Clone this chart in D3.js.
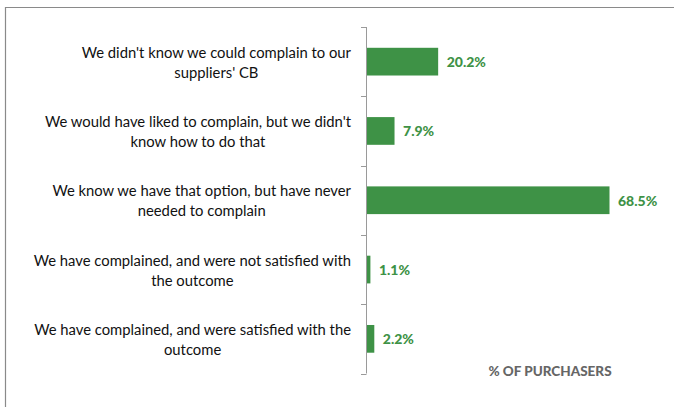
<!DOCTYPE html>
<html>
<head>
<meta charset="utf-8">
<script src="https://cdn.jsdelivr.net/npm/d3@7"></script>
<style>
  html, body { margin: 0; padding: 0; background: #fff; }
  svg { display: block; }
</style>
</head>
<body>
<svg id="chart" width="674" height="407"></svg>
<script>
// Survey answers, top to bottom
const categories = [
  "We didn't know we could complain to our suppliers' CB",
  "We would have liked to complain, but we didn't know how to do that",
  "We know we have that option, but have never needed to complain",
  "We have complained, and were not satisfied with the outcome",
  "We have complained, and were satisfied with the outcome"
];
const categoryLines = [
  ["We didn't know we could complain to our", "suppliers' CB"],
  ["We would have liked to complain, but we didn't", "know how to do that"],
  ["We know we have that option, but have never", "needed to complain"],
  ["We have complained, and were not satisfied with", "the outcome"],
  ["We have complained, and were satisfied with the", "outcome"]
];
const values = [20.2, 7.9, 68.5, 1.1, 2.2];
const axisTitle = "% OF PURCHASERS";

const svg = d3.select("#chart");
const green = "#3e9246";

// outer frame (top and left edges)
svg.append("line").attr("x1", 5).attr("x2", 674).attr("y1", 7.5).attr("y2", 7.5)
  .attr("stroke", "#8a8a8a").attr("stroke-width", 1.2);
svg.append("line").attr("x1", 5.5).attr("x2", 5.5).attr("y1", 7).attr("y2", 407)
  .attr("stroke", "#8a8a8a").attr("stroke-width", 1.2);

const x0 = 366;
const x = d3.scaleLinear().domain([0, 68.5]).range([x0, 609]);
const y = d3.scaleBand().domain(d3.range(categories.length)).range([27, 373.5])
  .paddingInner(0.6).paddingOuter(0.3);

// bars
svg.append("g").selectAll("rect").data(values).join("rect")
  .attr("x", x(0) + 0.5)
  .attr("y", (d, i) => y(i))
  .attr("width", d => x(d) - x(0))
  .attr("height", y.bandwidth())
  .attr("fill", green);

// vertical category axis with ticks at band boundaries
const boundaries = d3.range(categories.length + 1).map(i => 27 + i * y.step());
const axisG = svg.append("g");
axisG.append("line").attr("x1", x0 + 0.5).attr("x2", x0 + 0.5)
  .attr("y1", boundaries[0]).attr("y2", boundaries[boundaries.length - 1])
  .attr("stroke", "#9a9a9a").attr("stroke-width", 1);
axisG.selectAll("line.tick").data(boundaries).join("line")
  .attr("class", "tick")
  .attr("x1", x0 - 5).attr("x2", x0 + 0.5)
  .attr("y1", d => Math.round(d) + 0.5).attr("y2", d => Math.round(d) + 0.5)
  .attr("stroke", "#9a9a9a").attr("stroke-width", 1);

// category labels: two centred lines, block right-aligned near the axis
const labelRight = 351;
const labels = svg.append("g")
  .attr("font-family", "Lato, 'Open Sans', sans-serif")
  .attr("font-size", 14.8)
  .attr("fill", "#111");
categoryLines.forEach((lines, i) => {
  const cy = y(i) + y.bandwidth() / 2;
  const g = labels.append("g");
  const texts = g.selectAll("text").data(lines).join("text")
    .attr("text-anchor", "middle")
    .attr("dominant-baseline", "central")
    .attr("y", (d, j) => cy + (j - (lines.length - 1) / 2) * 20)
    .text(d => d);
  let maxW = 0;
  texts.each(function () { maxW = Math.max(maxW, this.getComputedTextLength()); });
  texts.attr("x", labelRight - maxW / 2);
});

// value labels
svg.append("g").selectAll("text").data(values).join("text")
  .attr("x", d => x(d) + 9)
  .attr("y", (d, i) => y(i) + y.bandwidth() / 2)
  .attr("dominant-baseline", "central")
  .attr("font-family", "Lato, 'Open Sans', sans-serif")
  .attr("font-weight", 900)
  .attr("font-size", 14)
  .attr("fill", green)
  .text(d => d.toFixed(1) + "%");

// axis title
svg.append("text")
  .attr("x", 550).attr("y", 371)
  .attr("text-anchor", "middle")
  .attr("dominant-baseline", "central")
  .attr("font-family", "Lato, 'Open Sans', sans-serif")
  .attr("font-weight", 900)
  .attr("font-size", 13.5)
  .attr("fill", "#666")
  .text(axisTitle);
</script>
</body>
</html>
